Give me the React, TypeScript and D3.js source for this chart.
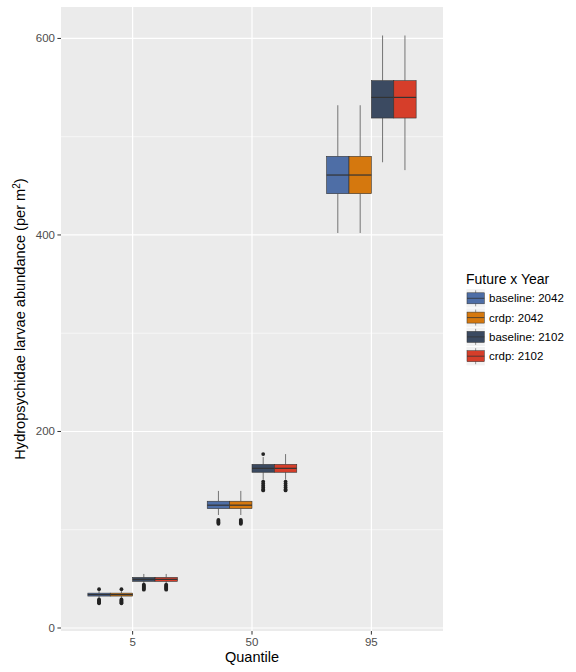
import React from "react";
import * as d3 from "d3";

const quantiles = ["5", "50", "95"];
const groups = ["baseline: 2042", "crdp: 2042", "baseline: 2102", "crdp: 2102"];
const colors = ["#4E6EA6", "#D5780E", "#3B4A61", "#D63E2A"];

// [lower whisker, q1, median, q3, upper whisker] per quantile per group
const statsQ5 = [
  [30, 32.5, 34, 35.5, 38],
  [30, 32.5, 34, 35.5, 38],
  [45.5, 47.5, 49.5, 51.5, 55],
  [45.5, 47.5, 49.5, 51.5, 55],
];
const statsQ50 = [
  [115, 121.5, 125, 129, 139.5],
  [115, 121.5, 125, 129, 139.5],
  [151, 158.5, 162.5, 166.5, 174],
  [151, 158.5, 162.5, 166.5, 177],
];
const statsQ95 = [
  [402, 442, 461, 480, 532],
  [402, 442, 461, 480, 532],
  [474, 519, 540, 557, 603],
  [466, 519, 540, 557, 603],
];
const outliersQ5 = [
  [39.5, 29, 28, 27, 26, 25.2],
  [39.5, 29, 28, 27, 26, 25.2],
  [44, 43, 42, 41, 40, 39],
  [44, 43, 42, 41, 40, 39],
];
const outliersQ50 = [
  [110, 109, 108, 107, 106],
  [110, 109, 108, 107, 106],
  [177, 149, 147, 145, 143, 141, 140],
  [149, 147, 145, 143, 141, 140],
];
const outliersQ95 = [[], [], [], []];

const yTicks = [0, 200, 400, 600];
const yMinor = [100, 300, 500];

const stats = [statsQ5, statsQ50, statsQ95];
const outliers = [outliersQ5, outliersQ50, outliersQ95];

const W = 576;
const H = 672;
const P = { left: 61, right: 443, top: 7, bottom: 631 };
const FONT = "'Liberation Sans', Arial, sans-serif";

export default function App() {
  const x = d3.scalePoint<string>().domain(quantiles).range([P.left, P.right]).padding(0.6);
  const y = d3.scaleLinear().domain([-3.05, 632]).range([P.bottom, P.top]);
  const dodge = x.step() * 0.75;
  const bw = dodge / groups.length;

  return (
    <svg width={W} height={H} style={{ position: "absolute", left: 0, top: 0, background: "#fff" }} fontFamily={FONT}>
      <rect x={P.left} y={P.top} width={P.right - P.left} height={P.bottom - P.top} fill="#EBEBEB" />
      {yMinor.map((t) => (
        <line key={"m" + t} x1={P.left} x2={P.right} y1={y(t)} y2={y(t)} stroke="#fff" strokeWidth={0.6} />
      ))}
      {yTicks.map((t) => (
        <line key={"g" + t} x1={P.left} x2={P.right} y1={y(t)} y2={y(t)} stroke="#fff" strokeWidth={1.2} />
      ))}
      {quantiles.map((q) => (
        <line key={"v" + q} x1={x(q)} x2={x(q)} y1={P.top} y2={P.bottom} stroke="#fff" strokeWidth={1.2} />
      ))}
      {quantiles.map((q, qi) =>
        groups.map((g, gi) => {
          const [lo, q1, med, q3, hi] = stats[qi][gi];
          const cx = (x(q) as number) - dodge / 2 + bw * (gi + 0.5);
          const x0 = cx - bw / 2;
          return (
            <g key={q + g}>
              <line x1={cx} x2={cx} y1={y(hi)} y2={y(q3)} stroke="#555" strokeWidth={0.8} />
              <line x1={cx} x2={cx} y1={y(q1)} y2={y(lo)} stroke="#555" strokeWidth={0.8} />
              <rect x={x0} y={y(q3)} width={bw} height={y(q1) - y(q3)} fill={colors[gi]} stroke="#333" strokeWidth={0.6} />
              <line x1={x0} x2={x0 + bw} y1={y(med)} y2={y(med)} stroke="#333" strokeWidth={1.2} />
              {outliers[qi][gi].map((o, oi) => (
                <circle key={oi} cx={cx} cy={y(o)} r={1.9} fill="#222" />
              ))}
            </g>
          );
        })
      )}
      {yTicks.map((t) => (
        <g key={"yt" + t}>
          <line x1={P.left - 3.6} x2={P.left} y1={y(t)} y2={y(t)} stroke="#333" strokeWidth={1} />
          <text x={P.left - 6} y={y(t) + 4} textAnchor="end" fontSize={11.5} fill="#4D4D4D">
            {t}
          </text>
        </g>
      ))}
      {quantiles.map((q) => (
        <g key={"xt" + q}>
          <line x1={x(q)} x2={x(q)} y1={P.bottom} y2={P.bottom + 3.6} stroke="#333" strokeWidth={1} />
          <text x={x(q)} y={645.5} textAnchor="middle" fontSize={11.5} fill="#4D4D4D">
            {q}
          </text>
        </g>
      ))}
      <text x={(P.left + P.right) / 2} y={662} textAnchor="middle" fontSize={14.5} fill="#000">
        Quantile
      </text>
      <text
        transform={`translate(24.5,${(P.top + P.bottom) / 2}) rotate(-90)`}
        textAnchor="middle"
        fontSize={14.6}
        fill="#000"
      >
        Hydropsychidae larvae abundance (per m
        <tspan dy={-5} fontSize={10}>2</tspan>
        <tspan dy={5}>)</tspan>
      </text>
      <text x={466} y={284} fontSize={14} fill="#000">
        Future x Year
      </text>
      {groups.map((g, gi) => {
        const cy = 298.3 + gi * 19.3;
        const kx = 467;
        const kw = 17.3;
        return (
          <g key={"lg" + g}>
            <rect x={kx - 0.5} y={cy - 9.2} width={kw + 1} height={18.4} fill="#F2F2F2" />
            <line x1={kx + kw / 2} x2={kx + kw / 2} y1={cy - 8} y2={cy + 8} stroke="#555" strokeWidth={0.6} />
            <rect x={kx} y={cy - 5.5} width={kw} height={11} fill={colors[gi]} stroke="#333" strokeWidth={0.5} />
            <line x1={kx} x2={kx + kw} y1={cy} y2={cy} stroke="#333" strokeWidth={0.8} />
            <text x={489} y={cy + 4} fontSize={11.5} fill="#000">
              {g}
            </text>
          </g>
        );
      })}
    </svg>
  );
}
